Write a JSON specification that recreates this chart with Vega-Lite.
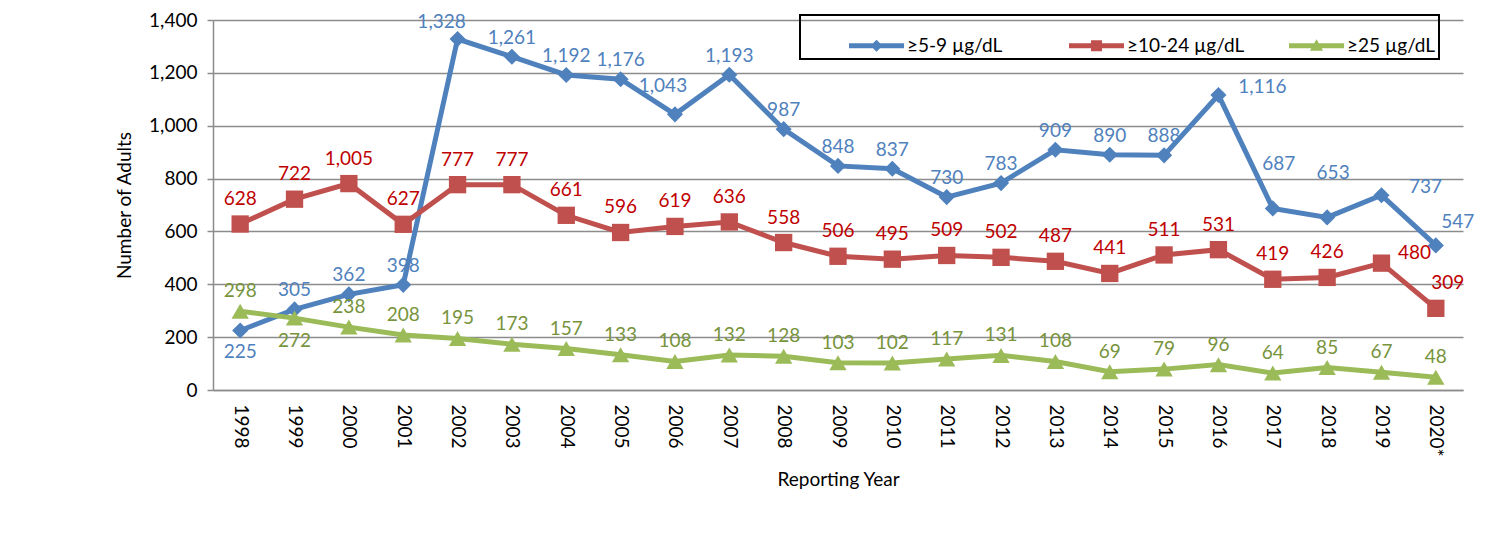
{
  "$schema": "https://vega.github.io/schema/vega-lite/v6.json",
  "width": 1250,
  "height": 370,
  "autosize": "none",
  "padding": {"left": 213, "top": 20, "right": 25, "bottom": 148},
  "background": "white",
  "config": {
    "font": "Lato",
    "view": {"stroke": null},
    "text": {"font": "Lato", "fontSize": 19}
  },
  "data": {
    "values": [
      {"year": "1998", "series": "≥5-9 µg/dL", "value": 225, "shown": 225},
      {"year": "1999", "series": "≥5-9 µg/dL", "value": 305, "shown": 305},
      {"year": "2000", "series": "≥5-9 µg/dL", "value": 362, "shown": 362},
      {"year": "2001", "series": "≥5-9 µg/dL", "value": 398, "shown": 398},
      {"year": "2002", "series": "≥5-9 µg/dL", "value": 1328, "shown": 1328},
      {"year": "2003", "series": "≥5-9 µg/dL", "value": 1261, "shown": 1261},
      {"year": "2004", "series": "≥5-9 µg/dL", "value": 1192, "shown": 1192},
      {"year": "2005", "series": "≥5-9 µg/dL", "value": 1176, "shown": 1176},
      {"year": "2006", "series": "≥5-9 µg/dL", "value": 1043, "shown": 1043},
      {"year": "2007", "series": "≥5-9 µg/dL", "value": 1193, "shown": 1193},
      {"year": "2008", "series": "≥5-9 µg/dL", "value": 987, "shown": 987},
      {"year": "2009", "series": "≥5-9 µg/dL", "value": 848, "shown": 848},
      {"year": "2010", "series": "≥5-9 µg/dL", "value": 837, "shown": 837},
      {"year": "2011", "series": "≥5-9 µg/dL", "value": 730, "shown": 730},
      {"year": "2012", "series": "≥5-9 µg/dL", "value": 783, "shown": 783},
      {"year": "2013", "series": "≥5-9 µg/dL", "value": 909, "shown": 909},
      {"year": "2014", "series": "≥5-9 µg/dL", "value": 890, "shown": 890},
      {"year": "2015", "series": "≥5-9 µg/dL", "value": 888, "shown": 888},
      {"year": "2016", "series": "≥5-9 µg/dL", "value": 1116, "shown": 1116},
      {"year": "2017", "series": "≥5-9 µg/dL", "value": 687, "shown": 687},
      {"year": "2018", "series": "≥5-9 µg/dL", "value": 653, "shown": 653},
      {"year": "2019", "series": "≥5-9 µg/dL", "value": 737, "shown": 737},
      {"year": "2020*", "series": "≥5-9 µg/dL", "value": 547, "shown": 547},
      {"year": "1998", "series": "≥10-24 µg/dL", "value": 628, "shown": 628},
      {"year": "1999", "series": "≥10-24 µg/dL", "value": 722, "shown": 722},
      {"year": "2000", "series": "≥10-24 µg/dL", "value": 781, "shown": 1005},
      {"year": "2001", "series": "≥10-24 µg/dL", "value": 627, "shown": 627},
      {"year": "2002", "series": "≥10-24 µg/dL", "value": 777, "shown": 777},
      {"year": "2003", "series": "≥10-24 µg/dL", "value": 777, "shown": 777},
      {"year": "2004", "series": "≥10-24 µg/dL", "value": 661, "shown": 661},
      {"year": "2005", "series": "≥10-24 µg/dL", "value": 596, "shown": 596},
      {"year": "2006", "series": "≥10-24 µg/dL", "value": 619, "shown": 619},
      {"year": "2007", "series": "≥10-24 µg/dL", "value": 636, "shown": 636},
      {"year": "2008", "series": "≥10-24 µg/dL", "value": 558, "shown": 558},
      {"year": "2009", "series": "≥10-24 µg/dL", "value": 506, "shown": 506},
      {"year": "2010", "series": "≥10-24 µg/dL", "value": 495, "shown": 495},
      {"year": "2011", "series": "≥10-24 µg/dL", "value": 509, "shown": 509},
      {"year": "2012", "series": "≥10-24 µg/dL", "value": 502, "shown": 502},
      {"year": "2013", "series": "≥10-24 µg/dL", "value": 487, "shown": 487},
      {"year": "2014", "series": "≥10-24 µg/dL", "value": 441, "shown": 441},
      {"year": "2015", "series": "≥10-24 µg/dL", "value": 511, "shown": 511},
      {"year": "2016", "series": "≥10-24 µg/dL", "value": 531, "shown": 531},
      {"year": "2017", "series": "≥10-24 µg/dL", "value": 419, "shown": 419},
      {"year": "2018", "series": "≥10-24 µg/dL", "value": 426, "shown": 426},
      {"year": "2019", "series": "≥10-24 µg/dL", "value": 480, "shown": 480},
      {"year": "2020*", "series": "≥10-24 µg/dL", "value": 309, "shown": 309},
      {"year": "1998", "series": "≥25 µg/dL", "value": 298, "shown": 298},
      {"year": "1999", "series": "≥25 µg/dL", "value": 272, "shown": 272},
      {"year": "2000", "series": "≥25 µg/dL", "value": 238, "shown": 238},
      {"year": "2001", "series": "≥25 µg/dL", "value": 208, "shown": 208},
      {"year": "2002", "series": "≥25 µg/dL", "value": 195, "shown": 195},
      {"year": "2003", "series": "≥25 µg/dL", "value": 173, "shown": 173},
      {"year": "2004", "series": "≥25 µg/dL", "value": 157, "shown": 157},
      {"year": "2005", "series": "≥25 µg/dL", "value": 133, "shown": 133},
      {"year": "2006", "series": "≥25 µg/dL", "value": 108, "shown": 108},
      {"year": "2007", "series": "≥25 µg/dL", "value": 132, "shown": 132},
      {"year": "2008", "series": "≥25 µg/dL", "value": 128, "shown": 128},
      {"year": "2009", "series": "≥25 µg/dL", "value": 103, "shown": 103},
      {"year": "2010", "series": "≥25 µg/dL", "value": 102, "shown": 102},
      {"year": "2011", "series": "≥25 µg/dL", "value": 117, "shown": 117},
      {"year": "2012", "series": "≥25 µg/dL", "value": 131, "shown": 131},
      {"year": "2013", "series": "≥25 µg/dL", "value": 108, "shown": 108},
      {"year": "2014", "series": "≥25 µg/dL", "value": 69, "shown": 69},
      {"year": "2015", "series": "≥25 µg/dL", "value": 79, "shown": 79},
      {"year": "2016", "series": "≥25 µg/dL", "value": 96, "shown": 96},
      {"year": "2017", "series": "≥25 µg/dL", "value": 64, "shown": 64},
      {"year": "2018", "series": "≥25 µg/dL", "value": 85, "shown": 85},
      {"year": "2019", "series": "≥25 µg/dL", "value": 67, "shown": 67},
      {"year": "2020*", "series": "≥25 µg/dL", "value": 48, "shown": 48}
    ]
  },
  "encoding": {
    "x": {
      "field": "year",
      "type": "ordinal",
      "sort": null,
      "scale": {"type": "point", "padding": 0.5},
      "axis": {
        "title": "Reporting Year",
        "titleFontSize": 19,
        "titleFontWeight": "normal",
        "titleColor": "black",
        "titlePadding": 14,
        "labelAngle": 90,
        "labelAlign": "left",
        "labelBaseline": "middle",
        "labelFontSize": 19,
        "labelColor": "black",
        "labelPadding": 14,
        "ticks": false,
        "domainColor": "#8c8c8c",
        "domainWidth": 1.5,
        "grid": false
      }
    },
    "y": {
      "field": "value",
      "type": "quantitative",
      "scale": {"domain": [0, 1400], "nice": false},
      "axis": {
        "title": "Number of Adults",
        "titleFontSize": 19,
        "titleFontWeight": "normal",
        "titleColor": "black",
        "titlePadding": 14,
        "values": [0, 200, 400, 600, 800, 1000, 1200, 1400],
        "labelExpr": "format(datum.value, ',')",
        "labelFontSize": 19,
        "labelColor": "black",
        "labelPadding": 10,
        "tickSize": 6,
        "tickColor": "#8c8c8c",
        "tickWidth": 1.5,
        "domainColor": "#8c8c8c",
        "domainWidth": 1.5,
        "gridColor": "#8c8c8c",
        "gridWidth": 1.5
      }
    }
  },
  "layer": [
    {
      "mark": {"type": "line", "strokeWidth": 5},
      "encoding": {
        "color": {
          "field": "series",
          "type": "nominal",
          "sort": ["≥5-9 µg/dL", "≥10-24 µg/dL", "≥25 µg/dL"],
          "scale": {"domain": ["≥5-9 µg/dL", "≥10-24 µg/dL", "≥25 µg/dL"], "range": ["#4f81bd", "#c0504d", "#9bbb59"]},
          "legend": {
            "title": " ",
            "titleOrient": "left",
            "titlePadding": 46,
            "orient": "none",
            "legendX": 587,
            "legendY": -5,
            "direction": "horizontal",
            "gridAlign": "all",
            "strokeColor": "black",
            "padding": 3,
            "columnPadding": 44,
            "symbolSize": 3025,
            "symbolType": "M-1,-0.09H1V0.09H-1Z",
            "symbolStrokeWidth": 0,
            "labelFontSize": 19,
            "labelColor": "black",
            "labelOffset": 3,
            "encode": {
              "legend": {"update": {"strokeWidth": {"value": 2}}},
              "symbols": {
                "update": {
                  "shape": {"signal": "datum.value === '≥5-9 µg/dL' ? 'M-1,-0.09H1V0.09H-1Z M0,-0.22L0.22,0L0,0.22L-0.22,0Z' : datum.value === '≥10-24 µg/dL' ? 'M-1,-0.09H1V0.09H-1Z M-0.2,-0.2H0.2V0.2H-0.2Z' : 'M-1,-0.09H1V0.09H-1Z M0,-0.24L0.24,0.18H-0.24Z'"},
                  "fill": {"scale": "color", "field": "value"},
                  "strokeWidth": {"value": 0},
                  "opacity": {"value": 1}
                }
              }
            }
          }
        }
      }
    },
    {
      "transform": [{"filter": "datum.series === '≥5-9 µg/dL'"}],
      "mark": {"type": "point", "shape": "diamond", "filled": true, "opacity": 1, "size": 260, "color": "#4f81bd"}
    },
    {
      "transform": [{"filter": "datum.series === '≥10-24 µg/dL'"}],
      "mark": {"type": "point", "shape": "square", "filled": true, "opacity": 1, "size": 300, "color": "#c0504d"}
    },
    {
      "transform": [{"filter": "datum.series === '≥25 µg/dL'"}],
      "mark": {"type": "point", "shape": "triangle-up", "filled": true, "opacity": 1, "size": 300, "color": "#9bbb59"}
    },
    {
      "transform": [{"filter": "datum.series === '≥5-9 µg/dL' && indexof(['1998','2002','2006','2016','2017','2018','2019','2020*'], datum.year) < 0"}],
      "mark": {"type": "text", "dy": -19, "color": "#4f81bd"},
      "encoding": {"text": {"field": "shown", "type": "quantitative", "format": ","}}
    },
    {
      "transform": [{"filter": "datum.series === '≥5-9 µg/dL' && datum.year === '1998'"}],
      "mark": {"type": "text", "dy": 21, "color": "#4f81bd"},
      "encoding": {"text": {"field": "shown", "type": "quantitative", "format": ","}}
    },
    {
      "transform": [{"filter": "datum.series === '≥5-9 µg/dL' && datum.year === '2002'"}],
      "mark": {"type": "text", "dx": -16, "dy": -17, "color": "#4f81bd"},
      "encoding": {"text": {"field": "shown", "type": "quantitative", "format": ","}}
    },
    {
      "transform": [{"filter": "datum.series === '≥5-9 µg/dL' && datum.year === '2006'"}],
      "mark": {"type": "text", "dx": -12, "dy": -28, "color": "#4f81bd"},
      "encoding": {"text": {"field": "shown", "type": "quantitative", "format": ","}}
    },
    {
      "transform": [{"filter": "datum.series === '≥5-9 µg/dL' && (datum.year === '2016' || datum.year === '2019')"}],
      "mark": {"type": "text", "dx": 44, "dy": -8, "color": "#4f81bd"},
      "encoding": {"text": {"field": "shown", "type": "quantitative", "format": ","}}
    },
    {
      "transform": [{"filter": "datum.series === '≥5-9 µg/dL' && (datum.year === '2017' || datum.year === '2018')"}],
      "mark": {"type": "text", "dx": 6, "dy": -44, "color": "#4f81bd"},
      "encoding": {"text": {"field": "shown", "type": "quantitative", "format": ","}}
    },
    {
      "transform": [{"filter": "datum.series === '≥5-9 µg/dL' && datum.year === '2020*'"}],
      "mark": {"type": "text", "dx": 22, "dy": -23, "color": "#4f81bd"},
      "encoding": {"text": {"field": "shown", "type": "quantitative", "format": ","}}
    },
    {
      "transform": [{"filter": "datum.series === '≥10-24 µg/dL' && datum.year !== '2019' && datum.year !== '2020*'"}],
      "mark": {"type": "text", "dy": -25, "color": "#c00000"},
      "encoding": {"text": {"field": "shown", "type": "quantitative", "format": ","}}
    },
    {
      "transform": [{"filter": "datum.series === '≥10-24 µg/dL' && datum.year === '2019'"}],
      "mark": {"type": "text", "dx": 33, "dy": -10, "color": "#c00000"},
      "encoding": {"text": {"field": "shown", "type": "quantitative", "format": ","}}
    },
    {
      "transform": [{"filter": "datum.series === '≥10-24 µg/dL' && datum.year === '2020*'"}],
      "mark": {"type": "text", "dx": 12, "dy": -25, "color": "#c00000"},
      "encoding": {"text": {"field": "shown", "type": "quantitative", "format": ","}}
    },
    {
      "transform": [{"filter": "datum.series === '≥25 µg/dL' && datum.year !== '1999'"}],
      "mark": {"type": "text", "dy": -20, "color": "#77933c"},
      "encoding": {"text": {"field": "shown", "type": "quantitative", "format": ","}}
    },
    {
      "transform": [{"filter": "datum.series === '≥25 µg/dL' && datum.year === '1999'"}],
      "mark": {"type": "text", "dy": 23, "color": "#77933c"},
      "encoding": {"text": {"field": "shown", "type": "quantitative", "format": ","}}
    }
  ]
}
